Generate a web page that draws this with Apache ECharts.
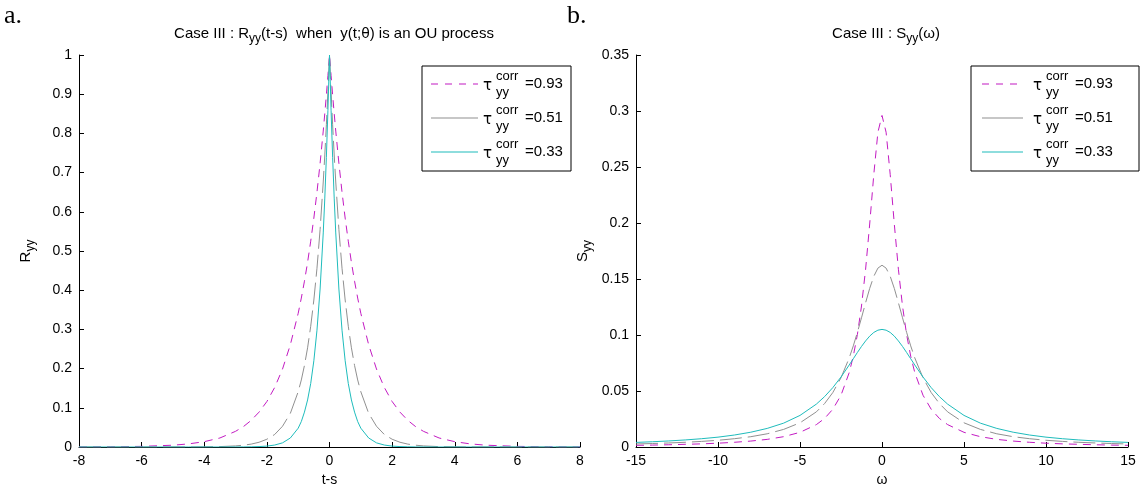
<!DOCTYPE html>
<html><head><meta charset="utf-8">
<script src="https://cdn.jsdelivr.net/npm/echarts@6/dist/echarts.min.js"></script>
<style>html,body{margin:0;padding:0;background:#fff}#c{width:1146px;height:492px}</style>
</head><body><div id="c"></div>
<script>
// ---- data ----
const tLeft = [-8,-7,-6,-5,-4.5,-4,-3.5,-3,-2.75,-2.5,-2.25,-2,-1.75,-1.5,-1.25,-1,-0.9,-0.8,-0.7,-0.6,-0.5,-0.4,-0.3,-0.2,-0.15,-0.1,-0.05,0,0.05,0.1,0.15,0.2,0.3,0.4,0.5,0.6,0.7,0.8,0.9,1,1.25,1.5,1.75,2,2.25,2.5,2.75,3,3.5,4,4.5,5,6,7,8];
const R093 = [0.0002,0.0005,0.0016,0.0046,0.0079,0.0136,0.023,0.040,0.052,0.068,0.089,0.116,0.152,0.199,0.261,0.341,0.380,0.423,0.471,0.525,0.584,0.650,0.724,0.806,0.851,0.898,0.948,1,0.948,0.898,0.851,0.806,0.724,0.650,0.584,0.525,0.471,0.423,0.380,0.341,0.261,0.199,0.152,0.116,0.089,0.068,0.052,0.040,0.023,0.0136,0.0079,0.0046,0.0016,0.0005,0.0002];
const R051 = [0,0,0,0.0001,0.0001,0.0004,0.0010,0.0028,0.0046,0.0074,0.0121,0.0198,0.032,0.053,0.086,0.141,0.171,0.208,0.253,0.308,0.375,0.456,0.555,0.676,0.745,0.822,0.907,1,0.907,0.822,0.745,0.676,0.555,0.456,0.375,0.308,0.253,0.208,0.171,0.141,0.086,0.053,0.032,0.0198,0.0121,0.0074,0.0046,0.0028,0.0010,0.0004,0.0001,0.0001,0,0,0];
const R033 = [0,0,0,0,0,0,0,0.0001,0.0002,0.0005,0.0011,0.0023,0.005,0.0106,0.023,0.048,0.065,0.089,0.120,0.162,0.220,0.298,0.403,0.546,0.635,0.739,0.859,1,0.859,0.739,0.635,0.546,0.403,0.298,0.220,0.162,0.120,0.089,0.065,0.048,0.023,0.0106,0.005,0.0023,0.0011,0.0005,0.0002,0.0001,0,0,0,0,0,0,0];

const wRight = [-15,-14,-13,-12,-11,-10,-9,-8,-7,-6,-5,-4,-3.5,-3,-2.5,-2,-1.75,-1.5,-1.25,-1,-0.75,-0.5,-0.25,0,0.25,0.5,0.75,1,1.25,1.5,1.75,2,2.5,3,3.5,4,5,6,7,8,9,10,11,12,13,14,15];
const S093 = [0.0015,0.0017,0.0020,0.0024,0.0028,0.0034,0.0042,0.0053,0.0068,0.0092,0.0131,0.0200,0.0255,0.0337,0.0462,0.0664,0.0811,0.1005,0.1259,0.1587,0.1991,0.2434,0.281,0.296,0.281,0.2434,0.1991,0.1587,0.1259,0.1005,0.0811,0.0664,0.0462,0.0337,0.0255,0.0200,0.0131,0.0092,0.0068,0.0053,0.0042,0.0034,0.0028,0.0024,0.0020,0.0017,0.0015];
const S051 = [0.0027,0.0031,0.0036,0.0042,0.0050,0.0060,0.0074,0.0092,0.0118,0.0157,0.0216,0.0314,0.0388,0.0486,0.0618,0.0795,0.0903,0.1024,0.1154,0.1288,0.1416,0.1524,0.1597,0.1623,0.1597,0.1524,0.1416,0.1288,0.1154,0.1024,0.0903,0.0795,0.0618,0.0486,0.0388,0.0314,0.0216,0.0157,0.0118,0.0092,0.0074,0.0060,0.0050,0.0042,0.0036,0.0031,0.0027];
const S033 = [0.0041,0.0047,0.0054,0.0063,0.0074,0.0088,0.0107,0.0132,0.0166,0.0213,0.0282,0.0383,0.0450,0.0530,0.0625,0.0732,0.0788,0.0844,0.0898,0.0947,0.0990,0.1023,0.1043,0.1050,0.1043,0.1023,0.0990,0.0947,0.0898,0.0844,0.0788,0.0732,0.0625,0.0530,0.0450,0.0383,0.0282,0.0213,0.0166,0.0132,0.0107,0.0088,0.0074,0.0063,0.0054,0.0047,0.0041];

const tauLabels = ['0.93','0.51','0.33'];

// ---- styles ----
const FONT = 'Liberation Sans';
const COLORS = ['#c21bc2','#909090','#1fbcbc'];
const DASHES = [[8,6],[22,6],'solid'];
const LEG_DASHES = [[7,7],'solid','solid'];

const chart = echarts.init(document.getElementById('c'), null, {renderer:'canvas'});

function axisCommon(){
  return {
    axisLine:{show:true,onZero:false,lineStyle:{color:'#000',width:1}},
    axisTick:{show:true,inside:true,length:5,lineStyle:{color:'#000'}},
    axisLabel:{color:'#000',fontSize:14,fontFamily:FONT,margin:7},
    splitLine:{show:false}
  };
}
function pairs(xs, ys){ return xs.map((x,i)=>[x, ys[i]]); }

const seriesDefs = [
  {xi:0, x:tLeft, ys:[R093,R051,R033]},
  {xi:1, x:wRight, ys:[S093,S051,S033]}
];
const series = [];
seriesDefs.forEach(d=>{
  d.ys.forEach((y,k)=>{
    series.push({
      type:'line', xAxisIndex:d.xi, yAxisIndex:d.xi,
      data:pairs(d.x,y), showSymbol:false, symbol:'none', silent:true,
      lineStyle:{color:COLORS[k], width:1, type:DASHES[k]}, z:2+k
    });
  });
});

const rich = {
  n:{fontSize:15,fontFamily:FONT,color:'#000',fontWeight:'normal'},
  sub:{fontSize:12,fontFamily:FONT,color:'#000',fontWeight:'normal',padding:[10,0,0,0]},
  g:{fontSize:14,fontFamily:'DejaVu Sans',color:'#000',fontWeight:'normal'}
};

function legendGroup(x0, y0, w, h, lx0, lx1, tx, eqOff){
  const els = [{type:'rect',shape:{x:x0,y:y0,width:w,height:h},style:{fill:'#fff',stroke:'#000',lineWidth:1},z:10}];
  const rows = [y0+18, y0+52, y0+86];
  rows.forEach((ry,k)=>{
    els.push({type:'line',shape:{x1:lx0,y1:ry,x2:lx1,y2:ry},style:{stroke:COLORS[k],lineWidth:1.2,lineDash:LEG_DASHES[k]==='solid'?null:LEG_DASHES[k]},z:11});
    els.push({type:'text',x:tx,y:ry+2,style:{text:'τ',font:'15px "DejaVu Sans"',fill:'#000',verticalAlign:'middle'},z:11});
    els.push({type:'text',x:tx+13,y:ry-8,style:{text:'corr',font:'13px "Liberation Sans"',fill:'#000',verticalAlign:'middle'},z:11});
    els.push({type:'text',x:tx+13,y:ry+8,style:{text:'yy',font:'13px "Liberation Sans"',fill:'#000',verticalAlign:'middle'},z:11});
    els.push({type:'text',x:tx+eqOff,y:ry,style:{text:'='+tauLabels[k],font:'15px "Liberation Sans"',fill:'#000',verticalAlign:'middle'},z:11});
  });
  return els;
}

const option = {
  animation:false,
  backgroundColor:'#fff',
  grid:[
    {left:79,top:55,width:501,height:392},
    {left:636,top:55,width:492,height:392}
  ],
  xAxis:[
    Object.assign(axisCommon(),{type:'value',gridIndex:0,min:-8,max:8,interval:2,
      name:'t-s',nameLocation:'middle',nameGap:24,nameTextStyle:{fontSize:14,fontFamily:FONT,color:'#000'}}),
    Object.assign(axisCommon(),{type:'value',gridIndex:1,min:-15,max:15,interval:5,
      name:'ω',nameLocation:'middle',nameGap:24,nameTextStyle:{fontSize:14,fontFamily:FONT,color:'#000'}})
  ],
  yAxis:[
    Object.assign(axisCommon(),{type:'value',gridIndex:0,min:0,max:1,interval:0.1,
      name:'{n|R}{sub|yy}',nameLocation:'middle',nameGap:42,nameRotate:90,nameTextStyle:{rich:rich}}),
    Object.assign(axisCommon(),{type:'value',gridIndex:1,min:0,max:0.35,interval:0.05,
      name:'{n|S}{sub|yy}',nameLocation:'middle',nameGap:42,nameRotate:90,nameTextStyle:{rich:rich}})
  ],
  title:[
    {text:'{n|Case III : R}{sub|yy}{n|(t-s)  when  y(t;}{g|θ}{n|) is an OU process}',left:329,top:18,textAlign:'center',
      textStyle:{rich:rich,fontWeight:'normal'}},
    {text:'{n|Case III : S}{sub|yy}{n|(ω)}',left:881,top:18,textAlign:'center',textStyle:{rich:rich,fontWeight:'normal'}}
  ],
  graphic:[
    {type:'text',x:4,y:3,style:{text:'a.',font:'26px "Liberation Serif"',fill:'#000'}},
    {type:'text',x:567,y:3,style:{text:'b.',font:'26px "Liberation Serif"',fill:'#000'}}
  ].concat(legendGroup(422,66,149,105,431,478,483,42)).concat(legendGroup(971,66,168,105,982,1023,1033,42)),
  series:series
};
chart.setOption(option);
</script>
</body></html>
